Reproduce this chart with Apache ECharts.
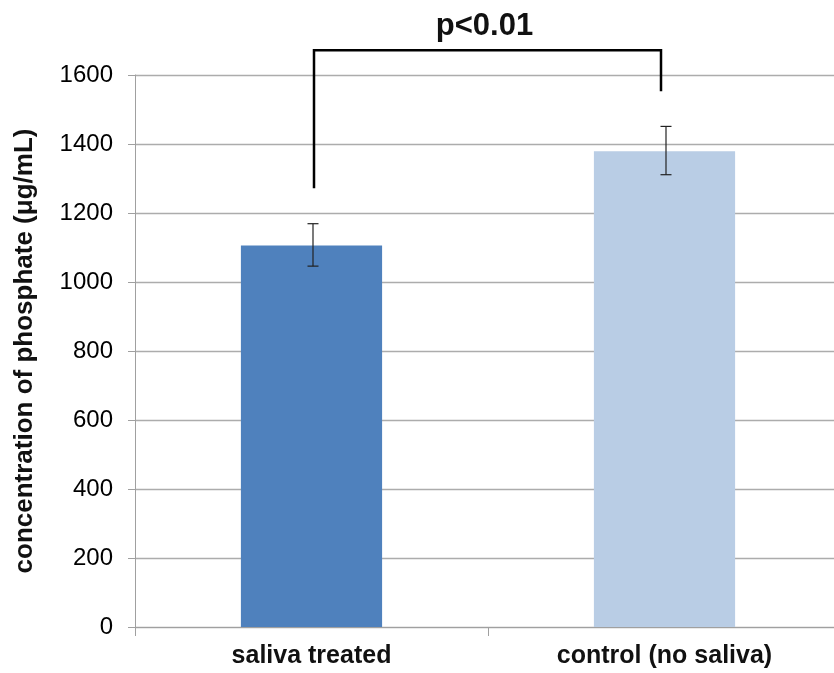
<!DOCTYPE html>
<html>
<head>
<meta charset="utf-8">
<script src="https://cdn.jsdelivr.net/npm/echarts@6/dist/echarts.min.js"></script>
<style>html,body{margin:0;padding:0;background:#fff}#c{width:834px;height:673px}</style>
</head>
<body>
<div id="c"></div>
<script>
var categories = ['saliva treated', 'control (no saliva)'];
var means = [1106, 1379];
var errLow = [1046, 1311];
var errHigh = [1169, 1451];
var barColors = ['#4f81bd', '#b9cde5'];
var yMin = 0, yMax = 1600, yInterval = 200;
// significance bracket (data units): left foot, top, right foot
var bracketLeftFoot = 1272;
var bracketTop = 1672;
var bracketRightFoot = 1553;
var sigLabel = 'p<0.01';

var chart = echarts.init(document.getElementById('c'));
var fontFam = '"Liberation Sans", Arial, sans-serif';

chart.setOption({
  animation: false,
  grid: { left: 135, width: 706, top: 75, bottom: 46, containLabel: false, outerBoundsMode: 'none' },
  xAxis: {
    type: 'category',
    data: categories,
    axisLine: { lineStyle: { color: '#a0a0a0', width: 1 } },
    axisTick: { show: true, length: 9, alignWithLabel: false, lineStyle: { color: '#a0a0a0' } },
    axisLabel: { color: '#111', fontSize: 25, fontWeight: 'bold', fontFamily: fontFam, margin: 17 }
  },
  yAxis: {
    type: 'value',
    min: yMin, max: yMax, interval: yInterval,
    name: 'concentration of phosphate (\u03bcg/mL)',
    nameLocation: 'middle',
    nameGap: 97,
    nameTextStyle: { color: '#111', fontSize: 26, fontWeight: 'bold', fontFamily: fontFam },
    axisLine: { show: true, lineStyle: { color: '#a0a0a0', width: 1 } },
    axisTick: { show: true, length: 7, lineStyle: { color: '#a0a0a0' } },
    axisLabel: { color: '#000', fontSize: 24, fontFamily: fontFam, margin: 22,
      formatter: function (v) { return String(v); } },
    splitLine: { lineStyle: { color: '#acacac', width: 1.3 } }
  },
  series: [
    {
      type: 'bar',
      barWidth: '40%',
      data: means.map(function (v, i) { return { value: v, itemStyle: { color: barColors[i] } }; })
    },
    {
      type: 'custom',
      z: 5,
      data: means.map(function (v, i) { return [i, errLow[i], errHigh[i]]; }),
      renderItem: function (params, api) {
        var lo = api.coord([api.value(0), api.value(1)]);
        var hi = api.coord([api.value(0), api.value(2)]);
        var x = lo[0] + 1.5, w = 5.5;
        var st = { stroke: '#222', lineWidth: 1.2 };
        return {
          type: 'group',
          children: [
            { type: 'line', shape: { x1: x, y1: lo[1], x2: x, y2: hi[1] }, style: st },
            { type: 'line', shape: { x1: x - w, y1: lo[1], x2: x + w, y2: lo[1] }, style: st },
            { type: 'line', shape: { x1: x - w, y1: hi[1], x2: x + w, y2: hi[1] }, style: st }
          ]
        };
      }
    },
    {
      type: 'custom',
      z: 6,
      clip: false,
      data: [[0, 1, bracketLeftFoot, bracketTop, bracketRightFoot]],
      renderItem: function (params, api) {
        var pL = api.coord([api.value(0), api.value(2)]);
        var pLT = api.coord([api.value(0), api.value(3)]);
        var pR = api.coord([api.value(1), api.value(4)]);
        var pRT = api.coord([api.value(1), api.value(3)]);
        var xl = pL[0] + 2.5, xr = pR[0] - 3.5;
        return {
          type: 'group',
          children: [
            { type: 'polyline', shape: { points: [[xl, pL[1]], [xl, pLT[1]], [xr, pRT[1]], [xr, pR[1]]] },
              style: { stroke: '#000', lineWidth: 2.5, fill: null } },
            { type: 'text', x: (xl + xr) / 2 - 3, y: pLT[1] - 24,
              style: { text: sigLabel, fill: '#111', font: 'bold 31px ' + fontFam, textAlign: 'center', textVerticalAlign: 'middle' } }
          ]
        };
      }
    }
  ]
});
</script>
</body>
</html>
